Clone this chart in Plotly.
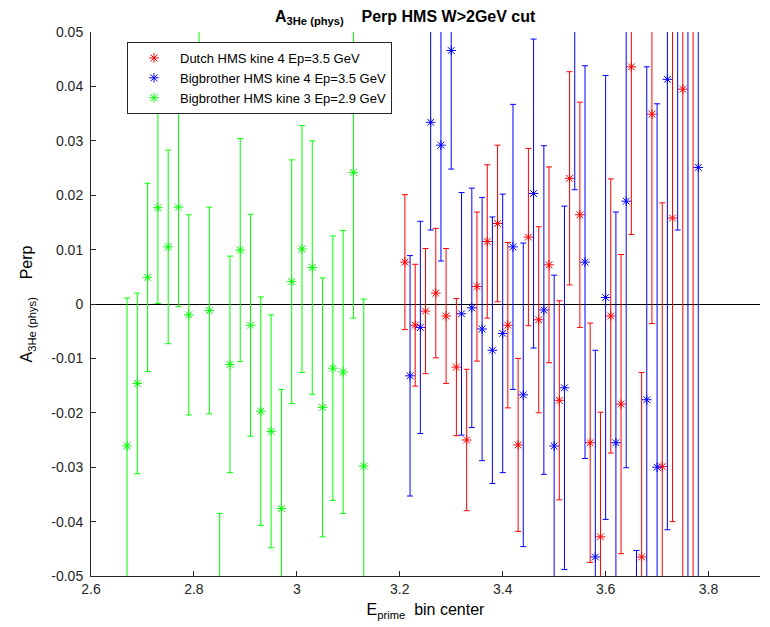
import plotly.graph_objects as go

# ---- data ----
green_x = [2.67, 2.69, 2.71, 2.73, 2.75, 2.77, 2.79, 2.81, 2.83, 2.85, 2.87, 2.89,
           2.91, 2.93, 2.95, 2.97, 2.99, 3.01, 3.03, 3.05, 3.07, 3.09, 3.11, 3.13]
green_y = [-0.0261, -0.0146, 0.0049, 0.0177, 0.0105, 0.0178, -0.0020, 0.0550,
           -0.0012, -0.0580, -0.0111, 0.0099, -0.0039, -0.0197, -0.0234, -0.0376,
           0.0041, 0.0101, 0.0067, -0.0190, -0.0118, -0.0125, 0.0242, -0.0298]
green_err = [0.0272, 0.0166, 0.0173, 0.0176, 0.0178, 0.0183, 0.0184, 0.0186,
             0.0190, 0.0195, 0.0199, 0.0205, 0.0204, 0.0210, 0.0214, 0.0219,
             0.0224, 0.0227, 0.0233, 0.0238, 0.0243, 0.0260, 0.0268, 0.0307]

red_x = [3.21, 3.23, 3.25, 3.27, 3.29, 3.31, 3.33, 3.35, 3.37, 3.39, 3.41, 3.43,
         3.45, 3.47, 3.49, 3.51, 3.53, 3.55, 3.57, 3.59, 3.61, 3.63, 3.65, 3.67,
         3.69, 3.71, 3.73, 3.75, 3.77]
red_y = [0.0077, -0.0039, -0.0013, 0.0020, -0.0022, -0.0116, -0.0250, 0.0032,
         0.0115, 0.0148, -0.0039, -0.0259, 0.0123, -0.0029, 0.0072, -0.0177,
         0.0231, 0.0164, -0.0255, -0.0428, -0.0022, -0.0184, 0.0436, -0.0465,
         0.0349, -0.0299, 0.0158, 0.0395, -0.0600]
red_err = [0.0124, 0.0112, 0.0115, 0.0119, 0.0124, 0.0126, 0.0130, 0.0137,
           0.0141, 0.0144, 0.0152, 0.0159, 0.0163, 0.0171, 0.0180, 0.0183,
           0.0196, 0.0207, 0.0220, 0.0229, 0.0252, 0.0275, 0.0308, 0.0339,
           0.0385, 0.0485, 0.0558, 0.0950, 0.1200]

blue_x = [3.22, 3.24, 3.26, 3.28, 3.30, 3.32, 3.34, 3.36, 3.38, 3.40, 3.42, 3.44,
          3.46, 3.48, 3.50, 3.52, 3.54, 3.56, 3.58, 3.60, 3.62, 3.64, 3.66, 3.68,
          3.70, 3.72, 3.74, 3.76, 3.78]
blue_y = [-0.0132, -0.0043, 0.0334, 0.0292, 0.0466, -0.0018, -0.0007, -0.0046,
          -0.0085, -0.0054, 0.0105, -0.0167, 0.0203, -0.0011, -0.0261, -0.0154,
          0.0560, 0.0077, -0.0465, 0.0012, -0.0255, 0.0189, -0.0960, -0.0176,
          -0.0300, 0.0413, 0.1036, 0.0650, 0.0251]
blue_err = [0.0221, 0.0195, 0.0198, 0.0213, 0.0218, 0.0223, 0.0220, 0.0242,
            0.0245, 0.0256, 0.0262, 0.0279, 0.0284, 0.0302, 0.0314, 0.0334,
            0.0350, 0.0361, 0.0380, 0.0408, 0.0424, 0.0490, 0.0507, 0.0612,
            0.0668, 0.0828, 0.0900, 0.1400, 0.1000]

names = ["Dutch HMS kine 4 Ep=3.5 GeV",
         "Bigbrother HMS kine 4 Ep=3.5 GeV",
         "Bigbrother HMS kine 3 Ep=2.9 GeV"]

y_ticks = [0.05, 0.04, 0.03, 0.02, 0.01, 0, -0.01, -0.02, -0.03, -0.04, -0.05]
y_ticktext = ["0.05", "0.04", "0.03", "0.02", "0.01", "0", "-0.01", "-0.02",
              "-0.03", "-0.04", "-0.05"]
x_ticks = [2.6, 2.8, 3.0, 3.2, 3.4, 3.6, 3.8]
x_ticktext = ["2.6", "2.8", "3", "3.2", "3.4", "3.6", "3.8"]

FONT = "Liberation Sans, Arial, Helvetica, sans-serif"

fig = go.Figure()
for xs, ys, es, col, nm in [(red_x, red_y, red_err, "#ff0000", names[0]),
                            (blue_x, blue_y, blue_err, "#0000ff", names[1]),
                            (green_x, green_y, green_err, "#00ff00", names[2])]:
    fig.add_trace(go.Scatter(
        x=xs, y=ys, mode="markers", name=nm,
        marker=dict(symbol="asterisk-open", size=8, color=col,
                    line=dict(width=1, color=col)),
        error_y=dict(type="data", array=es, visible=True, color=col,
                     thickness=1, width=3),
    ))

fig.update_layout(
    width=770, height=627,
    margin=dict(l=91, r=10, t=32, b=51),
    paper_bgcolor="white", plot_bgcolor="white",
    font=dict(family=FONT, size=14, color="#262626"),
    title=dict(text="<b>A<sub>3He (phys)</sub>\u00a0\u00a0\u00a0\u00a0Perp HMS W>2GeV cut</b>",
               x=275 / 770, xanchor="left", xref="container",
               y=1 - 16 / 627, yanchor="middle", yref="container",
               font=dict(family=FONT, size=16, color="black")),
    showlegend=True,
    legend=dict(x=(127 - 91) / 669, y=(576 - 42) / 544, xanchor="left", yanchor="top",
                bordercolor="#262626", borderwidth=1, bgcolor="white",
                font=dict(family=FONT, size=13, color="black"),
                itemwidth=42, tracegroupgap=0),
    xaxis=dict(range=[2.6, 3.9], tickmode="array", tickvals=x_ticks, ticktext=x_ticktext,
               ticks="inside", ticklen=5, tickcolor="#262626", showline=True,
               linecolor="#262626", linewidth=1, showgrid=False, zeroline=False,
               mirror=False,
               title=dict(text="E<sub>prime</sub>  bin center", standoff=8,
                          font=dict(family=FONT, size=16, color="black"))),
    yaxis=dict(range=[-0.05, 0.05], tickmode="array", tickvals=y_ticks, ticktext=y_ticktext,
               ticks="inside", ticklen=5, tickcolor="#262626", showline=True,
               linecolor="#262626", linewidth=1, showgrid=False,
               zeroline=True, zerolinecolor="black", zerolinewidth=1,
               ticklabelstandoff=4,
               title=dict(text="A<sub>3He (phys)</sub>\u00a0\u00a0\u00a0\u00a0Perp", standoff=14,
                          font=dict(family=FONT, size=16, color="black"))),
)

fig.write_html("out.html")
